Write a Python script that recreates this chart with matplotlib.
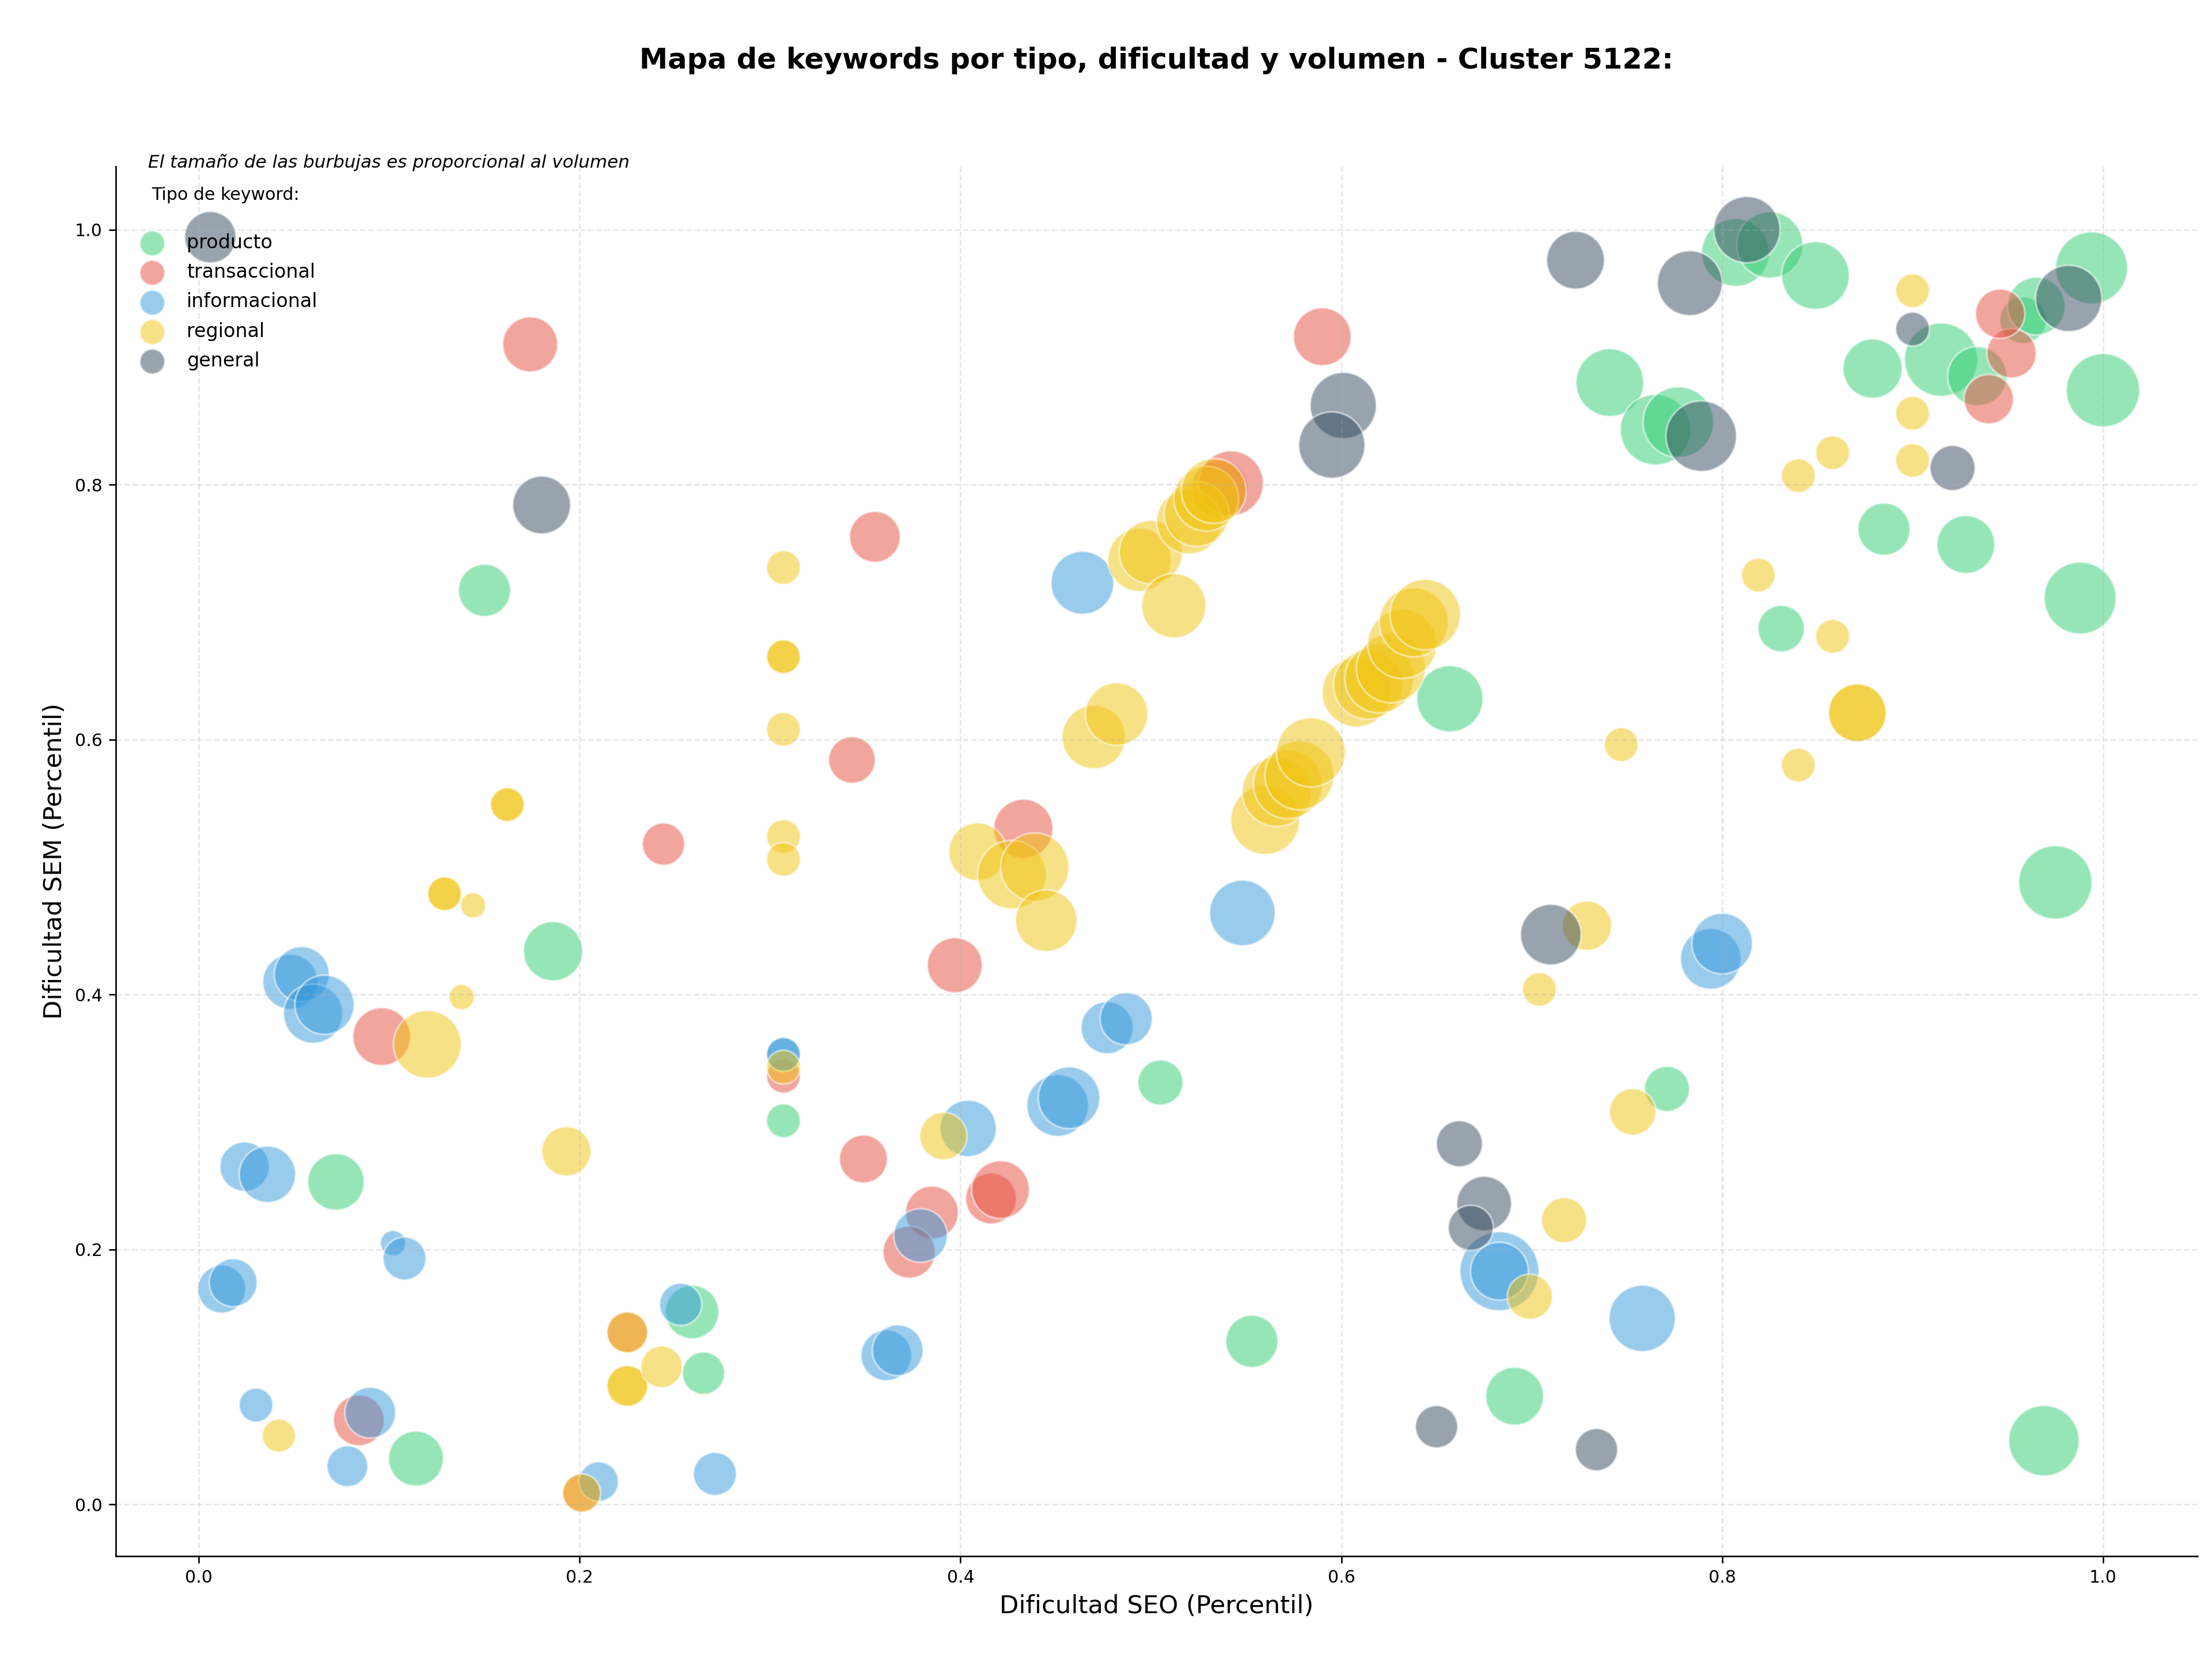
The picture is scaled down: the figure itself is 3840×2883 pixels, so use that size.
import matplotlib
matplotlib.use("Agg")
import matplotlib.pyplot as plt

# Datos por tipo de keyword: dificultad SEO (x), dificultad SEM (y) y volumen relativo
seo_producto = [0.150, 0.186, 0.072, 0.114, 0.259, 0.265, 0.307, 0.505, 0.553, 0.657,
                0.691, 0.771, 0.741, 0.765, 0.777, 0.807, 0.825, 0.849, 0.879, 0.885,
                0.928, 0.831, 0.915, 0.934, 0.958, 0.965, 0.994, 1.000, 0.988, 0.975, 0.969]
sem_producto = [0.717, 0.434, 0.253, 0.036, 0.151, 0.103, 0.301, 0.331, 0.128, 0.632,
                0.085, 0.326, 0.880, 0.843, 0.849, 0.982, 0.988, 0.964, 0.891, 0.765,
                0.753, 0.687, 0.898, 0.885, 0.929, 0.940, 0.970, 0.874, 0.711, 0.488, 0.050]
vol_producto = [739, 952, 864, 821, 780, 486, 311, 553, 739, 1192,
                907, 553, 1244, 1350, 1350, 1244, 1192, 1244, 952, 739,
                907, 588, 1460, 952, 588, 907, 1404, 1460, 1404, 1460, 1350]

seo_transaccional = [0.174, 0.355, 0.343, 0.244, 0.096, 0.084, 0.307, 0.349, 0.385, 0.373,
                     0.416, 0.421, 0.397, 0.433, 0.536, 0.542, 0.590, 0.940, 0.952, 0.946,
                     0.201, 0.225]
sem_transaccional = [0.910, 0.759, 0.584, 0.518, 0.367, 0.066, 0.336, 0.271, 0.229, 0.198,
                     0.240, 0.247, 0.423, 0.530, 0.797, 0.801, 0.916, 0.867, 0.903, 0.934,
                     0.009, 0.135]
vol_transaccional = [821, 700, 588, 486, 907, 700, 311, 624, 759, 739,
                     700, 907, 821, 952, 864, 1142, 907, 661, 661, 661,
                     394, 454]

seo_informacional = [0.048, 0.054, 0.060, 0.066, 0.024, 0.036, 0.102, 0.108, 0.012, 0.018,
                     0.030, 0.090, 0.078, 0.210, 0.253, 0.271, 0.307, 0.307, 0.361, 0.367,
                     0.379, 0.404, 0.451, 0.457, 0.477, 0.487, 0.464, 0.548, 0.683, 0.683,
                     0.758, 0.794, 0.800]
sem_informacional = [0.410, 0.416, 0.385, 0.392, 0.265, 0.259, 0.205, 0.193, 0.169, 0.174,
                     0.078, 0.072, 0.030, 0.018, 0.157, 0.024, 0.353, 0.353, 0.117, 0.121,
                     0.211, 0.295, 0.313, 0.319, 0.374, 0.381, 0.723, 0.464, 0.183, 0.183,
                     0.146, 0.428, 0.440]
vol_informacional = [821, 821, 952, 952, 661, 864, 175, 502, 624, 624,
                     311, 700, 454, 423, 486, 502, 311, 311, 700, 700,
                     780, 864, 1031, 1031, 739, 739, 1074, 1167, 1693, 907,
                     1192, 998, 998]

seo_regional = [0.307, 0.307, 0.307, 0.307, 0.307, 0.307, 0.307, 0.162, 0.162, 0.129,
                0.129, 0.144, 0.138, 0.120, 0.193, 0.042, 0.201, 0.225, 0.225, 0.225,
                0.243, 0.391, 0.409, 0.427, 0.439, 0.445, 0.470, 0.482, 0.494, 0.500,
                0.512, 0.520, 0.524, 0.529, 0.533, 0.560, 0.566, 0.572, 0.578, 0.584,
                0.608, 0.614, 0.620, 0.626, 0.632, 0.638, 0.644, 0.699, 0.717, 0.704,
                0.729, 0.747, 0.753, 0.819, 0.858, 0.840, 0.858, 0.900, 0.900, 0.900,
                0.840, 0.871, 0.871]
sem_regional = [0.735, 0.665, 0.665, 0.608, 0.524, 0.506, 0.343, 0.549, 0.549, 0.479,
                0.479, 0.470, 0.398, 0.361, 0.277, 0.054, 0.009, 0.135, 0.093, 0.093,
                0.108, 0.289, 0.512, 0.494, 0.500, 0.458, 0.602, 0.620, 0.741, 0.747,
                0.705, 0.771, 0.777, 0.789, 0.795, 0.537, 0.559, 0.565, 0.572, 0.590,
                0.637, 0.643, 0.648, 0.656, 0.675, 0.692, 0.698, 0.163, 0.223, 0.404,
                0.454, 0.596, 0.308, 0.729, 0.681, 0.807, 0.825, 0.952, 0.856, 0.819,
                0.580, 0.621, 0.621]
vol_regional = [311, 311, 311, 311, 311, 311, 311, 311, 311, 311,
                311, 175, 175, 1244, 661, 298, 394, 454, 454, 454,
                470, 609, 907, 1280, 1265, 1031, 1093, 1064, 1093, 1093,
                1122, 1142, 1142, 1142, 1142, 1296, 1296, 1296, 1296, 1296,
                1296, 1296, 1296, 1296, 1296, 1296, 1350, 553, 553, 311,
                661, 311, 588, 311, 311, 311, 311, 311, 311, 311,
                311, 907, 907]

seo_general = [0.006, 0.180, 0.601, 0.595, 0.723, 0.783, 0.813, 0.789, 0.982, 0.900,
               0.921, 0.710, 0.662, 0.675, 0.668, 0.650, 0.734]
sem_general = [0.994, 0.784, 0.862, 0.831, 0.976, 0.958, 1.000, 0.838, 0.946, 0.922,
               0.813, 0.447, 0.283, 0.236, 0.217, 0.061, 0.043]
vol_general = [719, 907, 1192, 1192, 907, 1142, 1192, 1350, 1192, 311,
               553, 998, 577, 813, 553, 486, 486]

tipos = ["producto", "transaccional", "informacional", "regional", "general"]
colores = ["#2ecc71", "#e74c3c", "#3498db", "#f1c40f", "#34495e"]
series = [
    (seo_producto, sem_producto, vol_producto),
    (seo_transaccional, sem_transaccional, vol_transaccional),
    (seo_informacional, sem_informacional, vol_informacional),
    (seo_regional, sem_regional, vol_regional),
    (seo_general, sem_general, vol_general),
]

fig, ax = plt.subplots(figsize=(16, 12.0125), dpi=240)
fig.subplots_adjust(left=0.0523, right=0.9935, top=0.8998, bottom=0.0631)

for tipo, color, (xs, ys, vs) in zip(tipos, colores, series):
    ax.scatter(xs, ys, s=vs, c=color, alpha=0.5, edgecolors="white",
               linewidths=1, label=tipo)

ax.set_title("Mapa de keywords por tipo, dificultad y volumen - Cluster 5122:",
             fontsize=14.85, fontweight="bold", pad=51)
ax.set_xlabel("Dificultad SEO (Percentil)", fontsize=13)
ax.set_ylabel("Dificultad SEM (Percentil)", fontsize=13)
ax.tick_params(labelsize=9)
ax.grid(True, linestyle="--", alpha=0.3)
ax.spines["top"].set_visible(False)
ax.spines["right"].set_visible(False)

ax.text(0.0155, 1.003, "El tamaño de las burbujas es proporcional al volumen",
        transform=ax.transAxes, fontsize=9.3, style="italic", va="center")

leg = ax.legend(title="Tipo de keyword:\n", loc="upper left", bbox_to_anchor=(0, 0.998),
                frameon=False, fontsize=10, title_fontsize=9, labelspacing=0.55)
for h in leg.legend_handles:
    h.set_sizes([170])

fig.savefig("out.png", dpi=240)
